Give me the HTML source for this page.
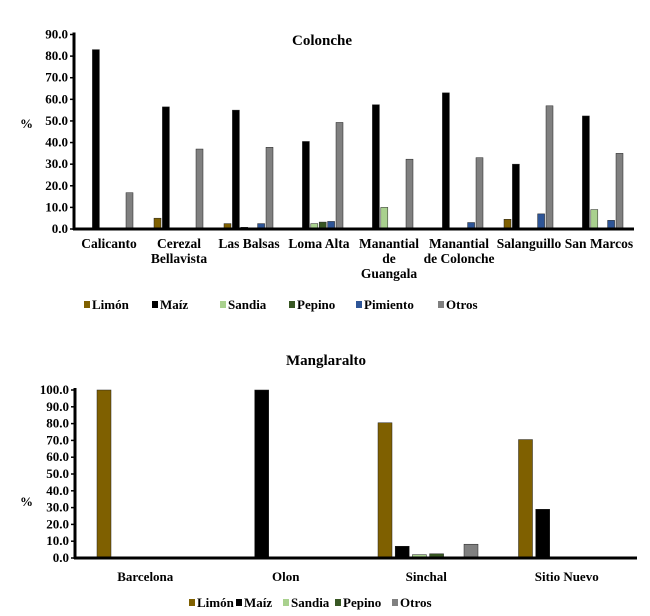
<!DOCTYPE html>
<html><head><meta charset="utf-8"><style>
body{margin:0;background:#fff}
svg{display:block;font-family:"Liberation Serif",serif;font-weight:bold}
</style></head><body>
<svg width="650" height="616" viewBox="0 0 650 616">
<g id="c1"></g>
<g id="c2"></g>
</svg>
<script>
const seriesNames = ["Limón","Maíz","Sandia","Pepino","Pimiento","Otros"];
const seriesColors = ["#7f6000","#000000","#a9d18e","#385723","#2e5597","#808080"];
const c1Categories = [["Calicanto"],["Cerezal","Bellavista"],["Las Balsas"],["Loma Alta"],["Manantial","de","Guangala"],["Manantial","de Colonche"],["Salanguillo"],["San Marcos"]];
const c1Limon = [0,5,2.5,0,0,0,4.5,0];
const c1Maiz = [83,56.5,55,40.5,57.5,63,30,52.3];
const c1Sandia = [0,0,0.8,2.5,10,0,0,9];
const c1Pepino = [0,0,0,3.2,0,0,0.5,0];
const c1Pimiento = [0,0,2.5,3.5,0,3,7,4];
const c1Otros = [16.8,37,37.8,49.3,32.3,33,57,35];
const c1Ticks = ["0.0","10.0","20.0","30.0","40.0","50.0","60.0","70.0","80.0","90.0"];
const c2Categories = [["Barcelona"],["Olon"],["Sinchal"],["Sitio Nuevo"]];
const c2Limon = [100,0,80.5,70.5];
const c2Maiz = [0,100,7,29];
const c2Sandia = [0,0,2,0];
const c2Pepino = [0,0,2.5,0];
const c2Pimiento = [0,0,0,0];
const c2Otros = [0,0,8.2,0];
const c2Ticks = ["0.0","10.0","20.0","30.0","40.0","50.0","60.0","70.0","80.0","90.0","100.0"];
const NS="http://www.w3.org/2000/svg";
function mk(p,t,a,txt){const e=document.createElementNS(NS,t);for(const k in a)e.setAttribute(k,a[k]);if(txt!=null)e.textContent=txt;p.appendChild(e);return e;}
function draw(g,cfg){
  const y=v=>cfg.y0-(v/cfg.max)*(cfg.y0-cfg.yTop);
  const t=mk(g,"text",{x:cfg.titleX,y:cfg.titleY,"text-anchor":"middle","font-size":15},cfg.title);
  
  
  const pc=mk(g,"text",{x:20,y:cfg.pctY,"font-size":13},"%");
  
  
  cfg.ticks.forEach((lab,i)=>{
    const v=parseFloat(lab);
    const tl=mk(g,"text",{x:cfg.x0-6,y:y(v)+4,"text-anchor":"end","font-size":13},lab);
    
    
    mk(g,"line",{x1:cfg.x0-4,x2:cfg.x0,y1:y(v),y2:y(v),stroke:"#000","stroke-width":1.5});
  });
  cfg.series.forEach((arr,s)=>{
    arr.forEach((v,i)=>{
      if(v<=0)return;
      const bx=cfg.x0+cfg.off+i*cfg.gw+s*cfg.slot;
      const r=mk(g,"rect",{x:bx,y:y(v),width:cfg.bw,height:cfg.y0-y(v),fill:seriesColors[s],stroke:"#222","stroke-width":0.5});
      
      
    });
  });
  mk(g,"line",{x1:cfg.x0,x2:cfg.x0,y1:cfg.yTop-2,y2:cfg.y0+1,stroke:"#000","stroke-width":3});
  mk(g,"line",{x1:cfg.x0-1,x2:cfg.x0+cfg.gw*cfg.cats.length,y1:cfg.y0,y2:cfg.y0,stroke:"#000","stroke-width":3});
  cfg.cats.forEach((lines,i)=>{
    const cx=cfg.x0+cfg.gw*(i+0.5);
    lines.forEach((ln,j)=>{
      const c=mk(g,"text",{x:cx,y:cfg.labY+j*15,"text-anchor":"middle","font-size":cfg.labFs},ln);
      
      
    });
  });
  cfg.legend.forEach(([s,lx])=>{
    mk(g,"rect",{x:lx,y:cfg.legY-8,width:6,height:7,fill:seriesColors[s]});
    const l=mk(g,"text",{x:lx+8,y:cfg.legY,"font-size":13},seriesNames[s]);
    
    
  });
}
draw(document.getElementById("c1"),{title:"Colonche",titleX:322,titleY:45,pctY:128,x0:74,y0:229,yTop:34.5,max:90,gw:70,off:10,slot:8.4,bw:7,
  ticks:c1Ticks,cats:c1Categories,labY:248,labFs:13.5,
  series:[c1Limon,c1Maiz,c1Sandia,c1Pepino,c1Pimiento,c1Otros],
  legY:309,legend:[[0,84],[1,152],[2,220],[3,289],[4,356],[5,438]]});
draw(document.getElementById("c2"),{title:"Manglaralto",titleX:326,titleY:365,pctY:506,x0:75,y0:558,yTop:390,max:100,gw:140.5,off:22,slot:17.2,bw:14,
  ticks:c2Ticks,cats:c2Categories,labY:581,labFs:13,
  series:[c2Limon,c2Maiz,c2Sandia,c2Pepino,c2Pimiento,c2Otros],
  legY:607,legend:[[0,189],[1,236],[2,283],[3,335],[5,392]]});
</script>
</body></html>
